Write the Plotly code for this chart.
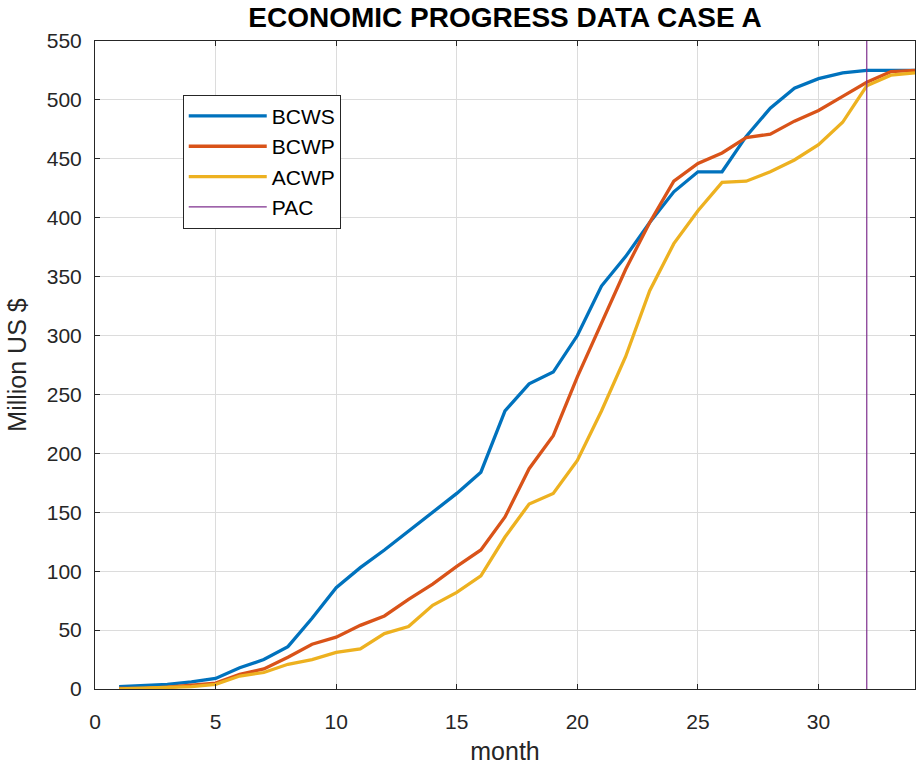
import plotly.graph_objects as go

months = list(range(1, 35))
bcws = [2, 3, 4, 6, 9, 18, 25, 36, 60, 86, 103, 118, 134, 150, 166, 184, 236, 259, 269,
        300, 342, 367, 396, 422, 439, 439, 469, 493, 510, 518, 523, 525, 525, 525]
bcwp = [0.5, 0.5, 1.5, 3, 5, 12.5, 17, 27, 38, 44, 54, 62, 76, 89, 104, 118, 146, 187, 215,
        265, 310, 356, 396, 431, 446, 455, 468, 471, 482, 491, 503, 515, 524, 525]
acwp = [0, 0.5, 1, 2, 4, 11, 14, 21, 25, 31, 34, 47, 53, 71, 82, 96, 129, 157, 166,
        194, 236, 282, 338, 378, 406, 430, 431, 439, 449, 462, 481, 512, 521, 523]
pac_month = 32
y_limits = [0, 550]
x_limits = [0, 34]
x_ticks = [0, 5, 10, 15, 20, 25, 30]
y_ticks = list(range(0, 551, 50))

FONT = "Liberation Sans, Arial, sans-serif"
series = [("BCWS", bcws, "#0072BD"), ("BCWP", bcwp, "#D95319"), ("ACWP", acwp, "#EDB120")]

fig = go.Figure()
for i, (name, vals, col) in enumerate(series):
    fig.add_trace(go.Scatter(x=months, y=vals, mode="lines", name=name,
                             line=dict(color=col, width=3.3), legendgroup=str(i)))
fig.add_trace(go.Scatter(x=[pac_month, pac_month], y=y_limits, mode="lines", name="PAC",
                         line=dict(color="#7E2F8E", width=1.2), legendgroup="3"))

axis_common = dict(showgrid=True, gridcolor="#DCDCDC", gridwidth=1, zeroline=False,
                   showline=True, linecolor="#262626", linewidth=1, mirror="ticks",
                   ticks="inside", ticklen=5, tickcolor="#262626",
                   tickfont=dict(size=21, color="#262626", family=FONT))

fig.update_layout(
    width=917, height=769,
    margin=dict(l=95, r=2, t=41, b=80),
    paper_bgcolor="white", plot_bgcolor="white",
    font=dict(family=FONT, color="#262626"),
    title=dict(text="<b>ECONOMIC PROGRESS DATA CASE A</b>", xref="paper", x=0.5,
               xanchor="center", yref="container", y=0.991, yanchor="top",
               font=dict(size=28, color="black", family=FONT)),
    xaxis=dict(range=x_limits, tickvals=x_ticks, ticklabelstandoff=14,
               title=dict(text="month", font=dict(size=25, color="#262626"), standoff=10),
               **axis_common),
    yaxis=dict(range=y_limits, tickvals=y_ticks, ticklabelstandoff=8,
               title=dict(text="Million US $", font=dict(size=25, color="#262626"), standoff=13),
               **axis_common),
    legend=dict(x=0.107, y=0.917, xanchor="left", yanchor="top", bgcolor="white",
                bordercolor="#262626", borderwidth=1, tracegroupgap=0, itemwidth=78,
                font=dict(size=21, color="black", family=FONT)),
    showlegend=True,
)

fig.write_html("out.html")
